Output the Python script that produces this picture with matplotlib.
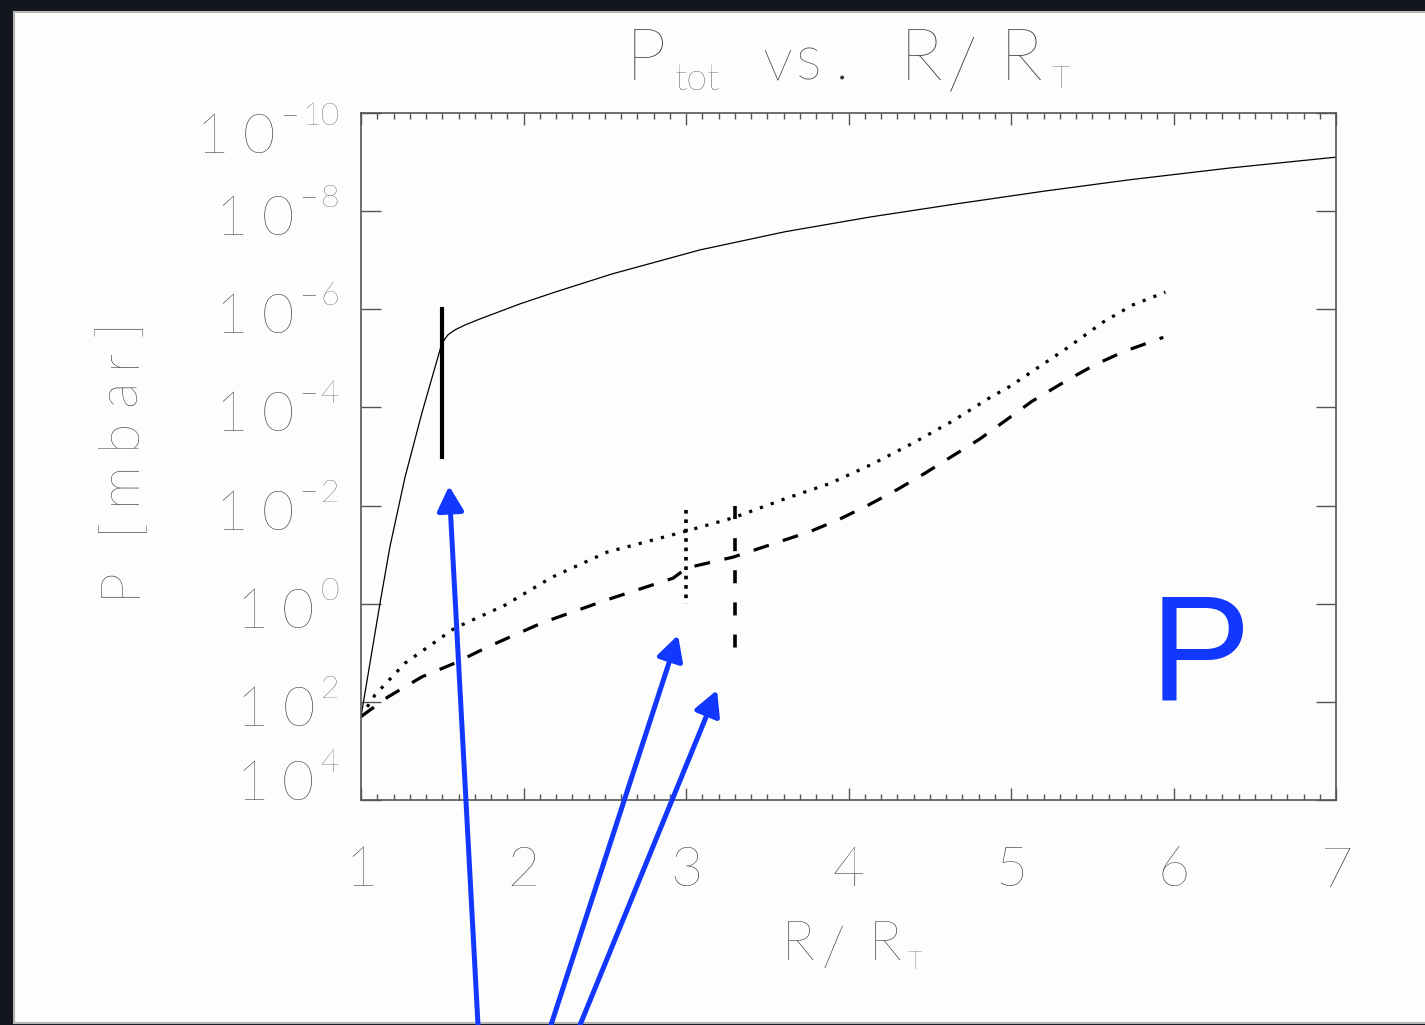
import numpy as np
import matplotlib
matplotlib.use("Agg")
import matplotlib.pyplot as plt
from matplotlib.patches import Rectangle
from matplotlib.ticker import FixedLocator, MultipleLocator, NullLocator, NullFormatter

# ---- data -------------------------------------------------------------
r_total = [1.0, 1.117, 1.178, 1.271, 1.375, 1.498, 1.535, 1.578, 1.640, 1.714,
           1.794, 1.978, 2.194, 2.545, 3.086, 3.609, 4.132, 4.668, 5.209, 5.732,
           6.348, 7.0]
logp_total = [2.3, -0.01, -1.16, -2.58, -3.89, -5.31, -5.48, -5.58, -5.68, -5.78,
              -5.88, -6.11, -6.35, -6.72, -7.21, -7.58, -7.88, -8.15, -8.41, -8.64,
              -8.88, -9.10]

r_dotted = [1.0, 1.086, 1.271, 1.578, 1.886, 2.175, 2.514, 2.98, 3.29, 3.619,
            3.886, 4.143, 4.395, 4.639, 4.875, 4.994, 5.345, 5.572, 5.75, 5.95]
logp_dotted = [2.3, 1.86, 1.21, 0.495, 0.03, -0.54, -1.05, -1.46, -1.75, -2.15,
               -2.45, -2.84, -3.27, -3.72, -4.21, -4.43, -5.21, -5.75, -6.09, -6.35]

r_dashed = [1.0, 1.166, 1.375, 1.578, 1.78, 2.114, 2.514, 2.92, 3.006, 3.29,
            3.763, 3.937, 4.122, 4.297, 4.471, 4.635, 4.805, 4.969, 5.127, 5.343,
            5.517, 5.695, 5.890, 5.937]
logp_dashed = [2.3, 1.90, 1.49, 1.21, 0.88, 0.39, -0.08, -0.52, -0.73, -0.95,
               -1.47, -1.71, -2.01, -2.32, -2.66, -3.00, -3.35, -3.74, -4.12, -4.55,
               -4.87, -5.14, -5.37, -5.43]

# vertical range markers: (R, log P low, log P high)
marker_total = (1.5, -6.0, -3.0)
marker_dotted = (3.0, -1.9, 0.0)
marker_dashed = (3.3, -2.0, 1.0)

# arrows: tip (R, log P) and tail x position along the bottom edge (figure fraction)
arrow_tips = [(1.542, -2.40), (2.951, 0.64), (3.191, 1.76)]
arrow_tails = [478 / 1425, 551 / 1425, 580 / 1425]

x_ticks = [1, 2, 3, 4, 5, 6, 7]
y_exponents = [-10, -8, -6, -4, -2, 0, 2, 4]

# ---- style ------------------------------------------------------------
W, H = 1425, 1025
FONT = "Lato"
plt.rcParams["font.family"] = [FONT, "DejaVu Sans"]
plt.rcParams["font.weight"] = "light"

TEXT = "#363636"
AXC = "#555555"
BLUE = "#1238ff"
LABEL_FS = 40

fig = plt.figure(figsize=(W / 100, H / 100), dpi=100)
fig.patch.set_facecolor("#14161d")
fig.patches.append(Rectangle((14 / W, 2 / H), 1.0, (1023 - 12) / H,
                             transform=fig.transFigure, facecolor="#fdfdfc",
                             edgecolor="#b5b5b5", linewidth=1.5, zorder=-10))

ax = fig.add_axes([361 / W, (H - 800) / H, 975 / W, 687 / H])
ax.set_facecolor("#fdfdfc")
ax.set_yscale("log")
ax.set_xlim(1, 7)
ax.set_ylim(1e4, 1e-10)

for sp in ax.spines.values():
    sp.set_color(AXC)
    sp.set_linewidth(1.2)

renderer = fig.canvas.get_renderer()


def place(pieces, x, y, align="left", vertical=False):
    """Lay out text pieces with explicit gaps (pixels, y measured from top).

    pieces: (string, fontsize, lift_px, gap_before_px)
    Vertical text runs upwards from y with its baseline at x.
    """
    seq = pieces if align == "left" else list(reversed(pieces))
    pos = y if vertical else x
    for i, (s, size, lift, gap) in enumerate(seq):
        if vertical:
            if i > 0:
                pos -= gap
            t = fig.text((x - lift) / W, 1 - pos / H, s, rotation=90,
                         rotation_mode="anchor", ha="left", va="baseline",
                         fontsize=size, color=TEXT)
            pos -= t.get_window_extent(renderer).height
            continue
        if align == "left" and i > 0:
            pos += gap
        t = fig.text(pos / W, 1 - (y - lift) / H, s,
                     ha="left" if align == "left" else "right",
                     va="baseline", fontsize=size, color=TEXT)
        w = t.get_window_extent(renderer).width
        if align == "left":
            pos += w
        else:
            pos -= w + gap


# curves
ax.plot(r_total, [10.0 ** v for v in logp_total], color="black", lw=0.9,
        solid_joinstyle="round")
ax.plot(r_dotted, [10.0 ** v for v in logp_dotted], color="black", lw=2.3,
        linestyle=(0, (1.0, 2.6)), dash_capstyle="butt")
ax.plot(r_dashed, [10.0 ** v for v in logp_dashed], color="black", lw=2.3,
        linestyle=(0, (5.0, 4.6)), dash_capstyle="butt")

# range markers
x, lo, hi = marker_total
ax.plot([x, x], [10.0 ** lo, 10.0 ** hi], color="black", lw=3.0)
x, lo, hi = marker_dotted
ax.plot([x, x], [10.0 ** lo, 10.0 ** hi], color="black", lw=2.6,
        linestyle=(0, (1.0, 1.6)), dash_capstyle="butt")
x, lo, hi = marker_dashed
ax.plot([x, x], [10.0 ** lo, 10.0 ** hi], color="black", lw=2.6,
        linestyle=(0, (3.6, 5.3)), dash_capstyle="butt")

# ticks
ax.xaxis.set_major_locator(FixedLocator(x_ticks))
ax.xaxis.set_minor_locator(MultipleLocator(0.1))
ax.set_xticklabels([str(v) for v in x_ticks])
ax.tick_params(axis="x", which="major", direction="in", top=True, bottom=True,
               length=8.6, width=1.0, color=AXC, labelsize=LABEL_FS,
               labelcolor=TEXT, pad=33)
ax.tick_params(axis="x", which="minor", direction="in", top=True, bottom=True,
               length=4.3, width=1.0, color=AXC)

ax.yaxis.set_major_locator(FixedLocator([10.0 ** e for e in y_exponents]))
ax.yaxis.set_minor_locator(NullLocator())
ax.yaxis.set_major_formatter(NullFormatter())
ax.tick_params(axis="y", which="major", direction="in", left=True, right=True,
               length=14.4, width=1.0, color=AXC)

# y tick labels: "10" with a raised exponent, right aligned next to the axis
for e in y_exponents:
    tick_top = H - ax.transData.transform((1.0, 10.0 ** e))[1]
    drop = 24
    if e == y_exponents[-1]:
        drop = 0
    elif e == y_exponents[0]:
        drop = 40
    pieces = [("1", LABEL_FS, 0, 0), ("0", LABEL_FS, 0, 14)]
    if e < 0:
        pieces += [("\u2212", 23, 28, 5), (str(-e), 23, 28, 3)]
    else:
        pieces += [(str(e), 23, 28, 6)]
    place(pieces, 339, tick_top + drop, align="right")

# title
place([("P", 52, 0, 0), ("tot", 27, -10, 8), ("v", 44, 0, 43), ("s", 44, 0, 3),
       (".", 44, 0, 14), ("R", 52, 0, 50), ("/", 52, -8, 5), ("R", 52, 0, 22),
       ("T", 23, -8, 9)], 626, 80)

# axis labels
place([("R", LABEL_FS, 0, 0), ("/", LABEL_FS, -6, 7), ("R", LABEL_FS, 0, 24),
       ("T", 18, -9, 6)], 782, 960)
place([("P", LABEL_FS, 0, 0), ("[", LABEL_FS, 0, 34), ("m", LABEL_FS, 0, 12),
       ("b", LABEL_FS, 0, 12), ("a", LABEL_FS, 0, 12), ("r", LABEL_FS, 0, 12),
       ("]", LABEL_FS, 0, 12)], 135, 597, vertical=True)

# panel letter
fig.text(1200 / W, 1 - 700 / H, "P", ha="center", va="baseline", fontsize=109,
         color=BLUE, family="Liberation Sans", fontweight="normal")

# arrows
for (tx, tl), fx in zip(arrow_tips, arrow_tails):
    ax.annotate("", xy=(tx, 10.0 ** tl), xycoords="data",
                xytext=(fx, 0.0), textcoords="figure fraction",
                arrowprops=dict(arrowstyle="-|>,head_length=0.75,head_width=0.4",
                                mutation_scale=20, lw=3.6, color=BLUE,
                                shrinkA=0, shrinkB=0),
                annotation_clip=False, zorder=5)

fig.savefig("out.png", dpi=100, facecolor=fig.get_facecolor())
